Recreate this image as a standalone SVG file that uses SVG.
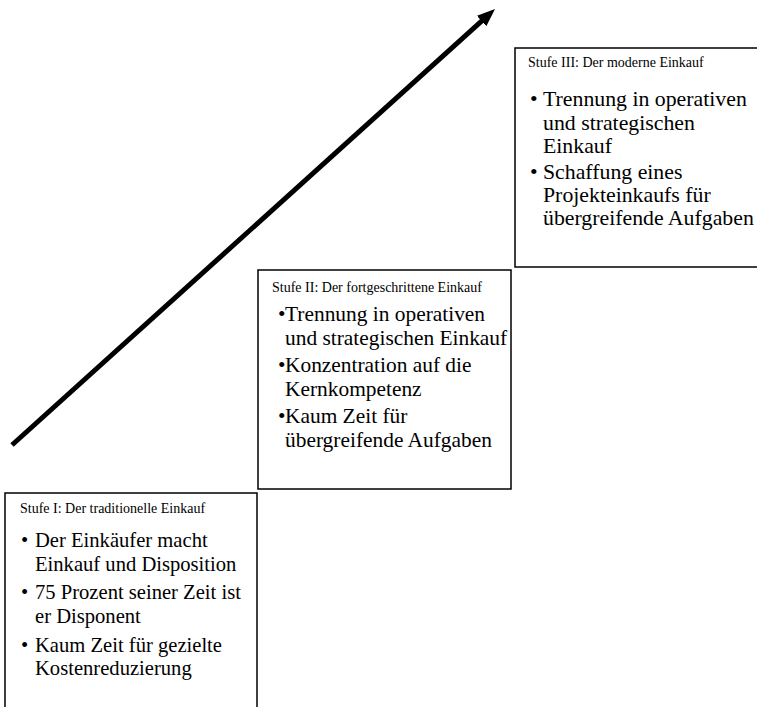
<svg xmlns="http://www.w3.org/2000/svg" width="757" height="707" viewBox="0 0 757 707">
<style>
.box{fill:#fff;stroke:#000;stroke-width:1.5}
text{font-family:"Liberation Serif","Times New Roman",serif;fill:#000}
.t{font-size:14px}
.b1{font-size:20.6px}
.b2{font-size:21.4px}
.b3{font-size:21.8px}
</style>
<defs>
<marker id="ah" markerUnits="userSpaceOnUse" markerWidth="20" markerHeight="16" refX="4" refY="7" orient="auto">
<path d="M0,0 L18,7 L0,14 z" fill="#000"/>
</marker>
</defs>
<rect width="757" height="707" fill="#fff"/>
<g id="connectors">
<line x1="12" y1="445" x2="484.6" y2="18.4" stroke="#000" stroke-width="5" marker-end="url(#ah)"/>
</g>
<g id="stufe3">
<rect class="box" x="515" y="48" width="250" height="219"/>
<text class="t" x="528" y="67">Stufe III: Der moderne Einkauf</text>
<text class="b3" x="530" y="106">•</text>
<text class="b3" x="543" y="106">Trennung in operativen</text>
<text class="b3" x="543" y="130">und strategischen</text>
<text class="b3" x="543" y="153">Einkauf</text>
<text class="b3" x="530" y="179">•</text>
<text class="b3" x="543" y="179">Schaffung eines</text>
<text class="b3" x="543" y="202">Projekteinkaufs für</text>
<text class="b3" x="543" y="225">übergreifende Aufgaben</text>
</g>
<g id="stufe2">
<rect class="box" x="258" y="270" width="253" height="219"/>
<text class="t" x="272" y="292">Stufe II: Der fortgeschrittene Einkauf</text>
<text class="b2" x="278" y="321">•</text>
<text class="b2" x="285" y="321">Trennung in operativen</text>
<text class="b2" x="285" y="345">und strategischen Einkauf</text>
<text class="b2" x="278" y="372">•</text>
<text class="b2" x="285" y="372">Konzentration auf die</text>
<text class="b2" x="285" y="396">Kernkompetenz</text>
<text class="b2" x="278" y="423">•</text>
<text class="b2" x="285" y="423">Kaum Zeit für</text>
<text class="b2" x="285" y="447">übergreifende Aufgaben</text>
</g>
<g id="stufe1">
<rect class="box" x="5" y="493" width="252" height="230"/>
<text class="t" x="20" y="513">Stufe I: Der traditionelle Einkauf</text>
<text class="b1" x="21" y="547">•</text>
<text class="b1" x="35" y="547">Der Einkäufer macht</text>
<text class="b1" x="35" y="571">Einkauf und Disposition</text>
<text class="b1" x="21" y="599">•</text>
<text class="b1" x="35" y="599">75 Prozent seiner Zeit ist</text>
<text class="b1" x="35" y="623">er Disponent</text>
<text class="b1" x="21" y="652">•</text>
<text class="b1" x="35" y="652">Kaum Zeit für gezielte</text>
<text class="b1" x="35" y="675">Kostenreduzierung</text>
</g>
</svg>
